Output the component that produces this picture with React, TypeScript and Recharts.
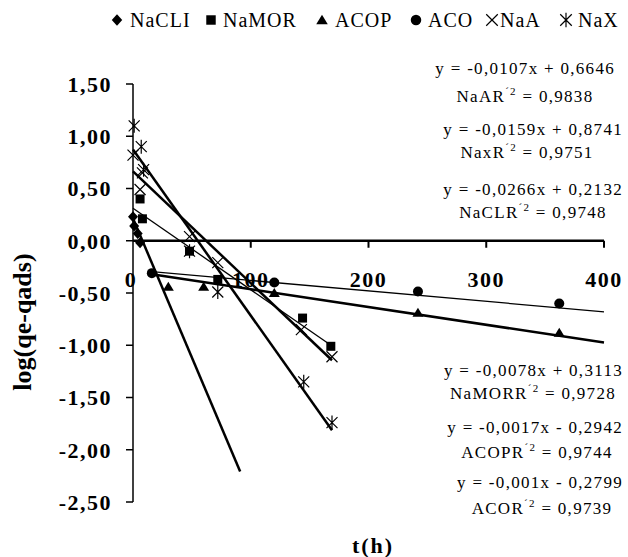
import React from 'react';
import { ComposedChart, Scatter, XAxis, YAxis, ReferenceLine, ReferenceDot } from 'recharts';

const FONT = "'Liberation Serif', 'Times New Roman', serif";

// measured points, t (h) and log(qe-qads)
const naCliT = [0, 1, 4, 6];
const naCliY = [0.23, 0.14, 0.07, -0.02];
const naMorT = [6, 8, 48, 72, 144, 168];
const naMorY = [0.4, 0.21, -0.1, -0.37, -0.74, -1.01];
const acopT = [30, 60, 120, 242, 362];
const acopY = [-0.44, -0.44, -0.5, -0.69, -0.88];
const acoT = [16, 120, 242, 362];
const acoY = [-0.31, -0.4, -0.485, -0.6];
const naAT = [0, 8, 6, 48, 72, 143, 169];
const naAY = [0.82, 0.65, 0.49, 0.04, -0.21, -0.85, -1.11];
const naXT = [1, 7, 9, 48, 72, 145, 169];
const naXY = [1.1, 0.9, 0.68, -0.1, -0.49, -1.35, -1.74];

// trend lines: NaCLI, NaMOR, ACOP, ACO, NaA, NaX
const fitSlope = [-0.0266, -0.0078, -0.0017, -0.001, -0.0107, -0.0159];
const fitIntercept = [0.2132, 0.3113, -0.2942, -0.2799, 0.6646, 0.8741];
const fitFrom = [0, 0, 16, 16, 0, 0];
const fitTo = [91, 169, 400, 400, 169, 169];
const fitWidth = [2.5, 1.3, 2.5, 1.3, 2.5, 2.5];

const legendNames = ['NaCLI', 'NaMOR', 'ACOP', 'ACO', 'NaA', 'NaX'];
const markerKinds = ['diamond', 'square', 'triangle', 'circle', 'cross', 'star'];

const xTicks = [0, 100, 200, 300, 400];
const yTicks = [-2.5, -2, -1.5, -1, -0.5, 0, 0.5, 1, 1.5];

const eqTexts = [
  'y = -0,0107x + 0,6646',
  'y = -0,0159x + 0,8741',
  'y = -0,0266x + 0,2132',
  'y = -0,0078x + 0,3113',
  'y = -0,0017x - 0,2942',
  'y = -0,001x - 0,2799',
];
const r2Names = ['NaAR', 'NaxR', 'NaCLR', 'NaMORR', 'ACOPR', 'ACOR'];
const r2Values = ['0,9838', '0,9751', '0,9748', '0,9728', '0,9744', '0,9739'];

// annotation placement (pixels)
const eqRight = [615, 623, 623, 623, 623, 623];
const eqBase = [74, 135, 195, 376, 433, 488];
const r2Center = [525, 527, 533, 533, 537, 542];
const r2Base = [102, 158, 218, 399, 458, 514];
const legendMarkX = [117, 211, 322, 416, 492, 566];
const legendTextX = [130, 223, 335, 428, 500, 578];

const toPts = (t: number[], y: number[]) => t.map((x, i) => ({ x, y: y[i] }));

const seriesPts = [
  toPts(naCliT, naCliY),
  toPts(naMorT, naMorY),
  toPts(acopT, acopY),
  toPts(acoT, acoY),
  toPts(naAT, naAY),
  toPts(naXT, naXY),
];

const fitPts = fitSlope.map((m, i) => [
  { x: fitFrom[i], y: m * fitFrom[i] + fitIntercept[i] },
  { x: fitTo[i], y: m * fitTo[i] + fitIntercept[i] },
]);

function Marker({ kind, cx, cy, s = 1 }: { kind: string; cx: number; cy: number; s?: number }) {
  if (cx == null || cy == null) return <g />;
  switch (kind) {
    case 'diamond':
      return <path d={`M${cx} ${cy - 5.5 * s}L${cx + 5 * s} ${cy}L${cx} ${cy + 5.5 * s}L${cx - 5 * s} ${cy}Z`} fill="#000" />;
    case 'square':
      return <rect x={cx - 4.5 * s} y={cy - 4.5 * s} width={9 * s} height={9 * s} fill="#000" />;
    case 'triangle':
      return <path d={`M${cx} ${cy - 5 * s}L${cx + 5.5 * s} ${cy + 4 * s}L${cx - 5.5 * s} ${cy + 4 * s}Z`} fill="#000" />;
    case 'circle':
      return <circle cx={cx} cy={cy} r={5 * s} fill="#000" />;
    case 'cross':
      return (
        <path d={`M${cx - 5.5 * s} ${cy - 5.5 * s}L${cx + 5.5 * s} ${cy + 5.5 * s}M${cx + 5.5 * s} ${cy - 5.5 * s}L${cx - 5.5 * s} ${cy + 5.5 * s}`} stroke="#000" strokeWidth={1.2} fill="none" />
      );
    default:
      return (
        <path d={`M${cx - 5.5 * s} ${cy - 5.5 * s}L${cx + 5.5 * s} ${cy + 5.5 * s}M${cx + 5.5 * s} ${cy - 5.5 * s}L${cx - 5.5 * s} ${cy + 5.5 * s}M${cx} ${cy - 7 * s}L${cx} ${cy + 7 * s}`} stroke="#000" strokeWidth={1.2} fill="none" />
      );
  }
}

const fmtY = (v: number) => v.toFixed(2).replace('.', ',');

export default function App() {
  return (
    <div style={{ position: 'absolute', left: 0, top: 0, width: 628, height: 557, background: '#fff' }}>
      <ComposedChart width={628} height={557} margin={{ top: 84, right: 24, bottom: 55, left: 60 }}>
        <XAxis type="number" dataKey="x" domain={[0, 400]} hide />
        <YAxis
          type="number"
          dataKey="y"
          domain={[-2.5, 1.5]}
          ticks={yTicks}
          interval={0}
          width={73}
          tickSize={7}
          tickMargin={14}
          tickFormatter={fmtY}
          axisLine={{ stroke: '#000', strokeWidth: 1.5 }}
          tickLine={{ stroke: '#000', strokeWidth: 1.5 }}
          tick={{ fill: '#000', fontSize: 22, fontWeight: 700, fontFamily: FONT, letterSpacing: 1.5 }}
        />
        <ReferenceLine y={0} stroke="#000" strokeWidth={2.5} />
        {xTicks.map((t) => (
          <ReferenceDot
            key={t}
            x={t}
            y={0}
            r={0}
            shape={(p: any) => (
              <g>
                {t > 0 && <line x1={p.cx} y1={p.cy} x2={p.cx} y2={p.cy + 7} stroke="#000" strokeWidth={2} />}
                <text
                  x={t === 0 ? p.cx - 2 : p.cx}
                  y={p.cy + 46}
                  textAnchor="middle"
                  fill="#000"
                  fontSize={22}
                  fontWeight={700}
                  fontFamily={FONT}
                  letterSpacing={1.5}
                >
                  {t}
                </text>
              </g>
            )}
          />
        ))}
        {fitPts.map((pts, i) => (
          <Scatter
            key={'fit' + i}
            data={pts}
            line={{ stroke: '#000', strokeWidth: fitWidth[i] }}
            shape={() => <g />}
            isAnimationActive={false}
          />
        ))}
        {seriesPts.map((pts, i) => (
          <Scatter
            key={legendNames[i]}
            name={legendNames[i]}
            data={pts}
            shape={(p: any) => <Marker kind={markerKinds[i]} cx={p.cx} cy={p.cy} />}
            isAnimationActive={false}
          />
        ))}
      </ComposedChart>

      <svg width={628} height={557} style={{ position: 'absolute', left: 0, top: 0, pointerEvents: 'none' }}>
        {legendNames.map((n, i) => (
          <g key={n}>
            <Marker kind={markerKinds[i]} cx={legendMarkX[i]} cy={20} s={1.05} />
            <text x={legendTextX[i]} y={27} fontSize={20} fontFamily={FONT} fill="#000" letterSpacing={1}>
              {n}
            </text>
          </g>
        ))}
        {eqTexts.map((e, i) => (
          <g key={e}>
            <text x={eqRight[i]} y={eqBase[i]} textAnchor="end" fontSize={17} fontFamily={FONT} fill="#000" letterSpacing={1.3}>
              {e}
            </text>
            <text x={r2Center[i]} y={r2Base[i]} textAnchor="middle" fontSize={17} fontFamily={FONT} fill="#000" letterSpacing={1.3}>
              {r2Names[i]}
              <tspan dy={-7} fontSize={11}>{'\u00B42'}</tspan>
              <tspan dy={7}>{' = ' + r2Values[i]}</tspan>
            </text>
          </g>
        ))}
        <text
          transform="translate(31, 322) rotate(-90)"
          textAnchor="middle"
          fontSize={26}
          fontWeight={700}
          fontFamily={FONT}
          fill="#000"
        >
          log(qe-qads)
        </text>
        <text x={373} y={553} textAnchor="middle" fontSize={22} fontWeight={700} fontFamily={FONT} fill="#000" letterSpacing={2}>
          t(h)
        </text>
      </svg>
    </div>
  );
}
